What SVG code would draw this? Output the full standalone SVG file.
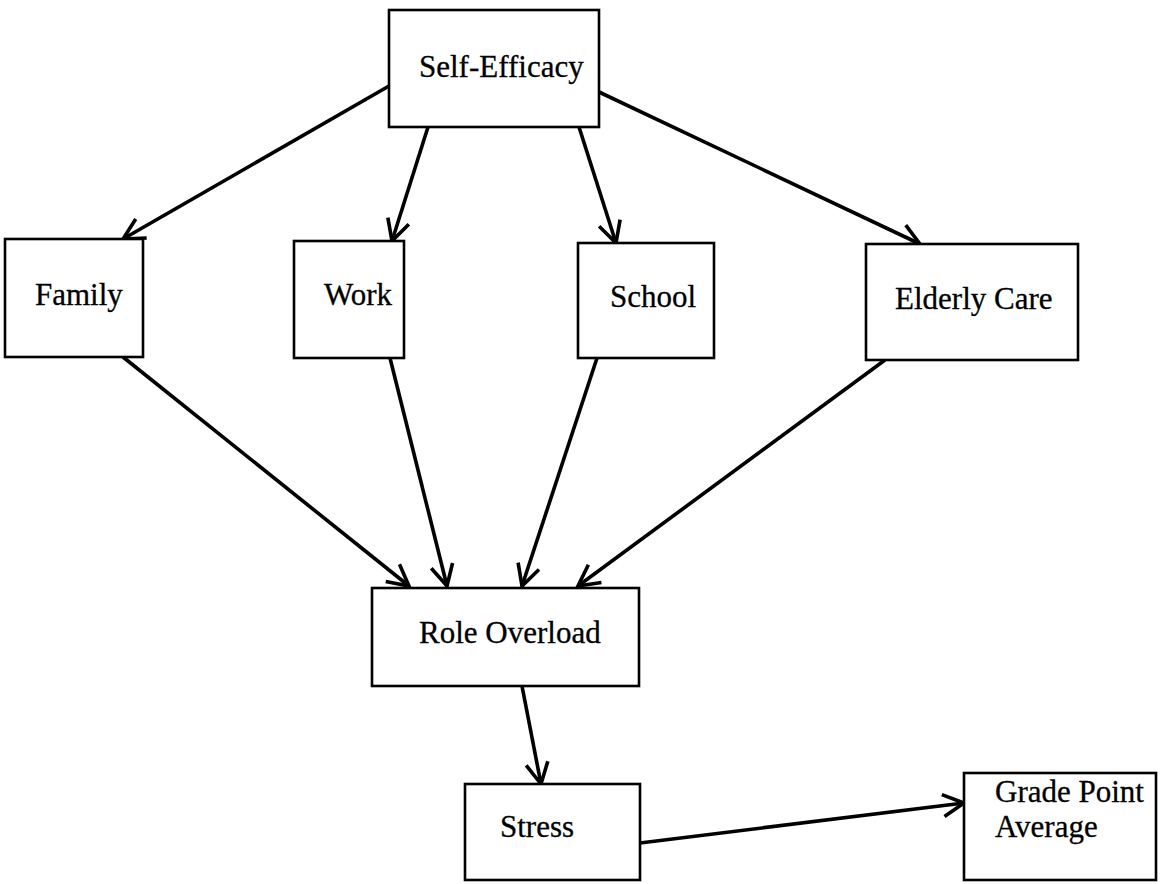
<svg xmlns="http://www.w3.org/2000/svg" width="1160" height="884" viewBox="0 0 1160 884">
  <style>
    .box { fill: #ffffff; stroke: #000000; stroke-width: 2.6; }
    .lbl { font-family: "Liberation Serif", "Times New Roman", serif; font-size: 31px; fill: #000000; stroke: #000000; stroke-width: 0.3; }
    .edge { fill: none; stroke: #000000; stroke-width: 3.6; marker-end: url(#vhead); }
  </style>
  <defs>
    <!-- open V arrowhead -->
    <marker id="vhead" markerUnits="userSpaceOnUse" viewBox="-26 -14 30 28" refX="0" refY="0" markerWidth="30" markerHeight="28" orient="auto" overflow="visible">
      <path d="M-21,-11 L0,0 L-21,11" fill="none" stroke="#000000" stroke-width="3.6" stroke-linejoin="miter"/>
    </marker>
  </defs>
  <rect width="1160" height="884" fill="#ffffff"/>

  <g id="connectors">
    <line class="edge" x1="389" y1="86" x2="123" y2="239"/>
    <line class="edge" x1="428" y1="127" x2="392" y2="241"/>
    <line class="edge" x1="579" y1="127" x2="616" y2="243"/>
    <line class="edge" x1="599" y1="92" x2="920" y2="244"/>
    <line class="edge" x1="123" y1="357" x2="409" y2="586"/>
    <line class="edge" x1="390" y1="358" x2="447" y2="586"/>
    <line class="edge" x1="597" y1="358" x2="522" y2="586"/>
    <line class="edge" x1="885" y1="360" x2="578" y2="586"/>
    <line class="edge" x1="522" y1="686" x2="541" y2="784"/>
    <line class="edge" x1="640" y1="843" x2="964" y2="803"/>
  </g>

  <g id="self-efficacy">
    <rect class="box" x="389" y="10" width="210" height="117"/>
    <text class="lbl" x="419" y="77">Self-Efficacy</text>
  </g>
  <g id="family">
    <rect class="box" x="5" y="239" width="138" height="118"/>
    <text class="lbl" x="35" y="305">Family</text>
  </g>
  <g id="work">
    <rect class="box" x="294" y="241" width="110" height="117"/>
    <text class="lbl" x="324" y="305">Work</text>
  </g>
  <g id="school">
    <rect class="box" x="578" y="243" width="136" height="115"/>
    <text class="lbl" x="610" y="307">School</text>
  </g>
  <g id="elderly-care">
    <rect class="box" x="866" y="244" width="212" height="116"/>
    <text class="lbl" x="895" y="309">Elderly Care</text>
  </g>
  <g id="role-overload">
    <rect class="box" x="372" y="588" width="267" height="98"/>
    <text class="lbl" x="419" y="643">Role Overload</text>
  </g>
  <g id="stress">
    <rect class="box" x="465" y="784" width="175" height="96"/>
    <text class="lbl" x="500" y="837">Stress</text>
  </g>
  <g id="grade-point-average">
    <rect class="box" x="964" y="773" width="192" height="107"/>
    <text class="lbl" x="995" y="802">Grade Point</text>
    <text class="lbl" x="995" y="837">Average</text>
  </g>
</svg>
